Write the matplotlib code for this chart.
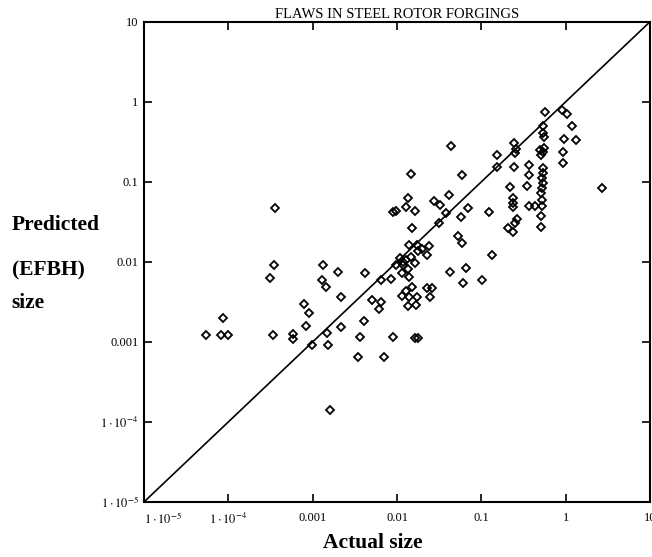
import numpy as np
import matplotlib
matplotlib.use("Agg")
import matplotlib.pyplot as plt
from matplotlib.ticker import FixedLocator, NullLocator

plt.rcParams['font.family'] = ['Liberation Serif', 'DejaVu Serif']
plt.rcParams['mathtext.fontset'] = 'stix'

# log10 of actual flaw size
actual_log = [
    -4.26, -4.09, -4.00, -4.07, -3.47, -3.51, -3.46, -3.45, -3.23, -3.23,
    -3.10, -3.04, -3.08, -3.01, -2.83, -2.82, -2.88, -2.89, -2.84, -2.70,
    -2.67, -2.67,
    -1.36, -0.81, -0.82, -1.84, -1.23, -1.39, -1.87, -1.56, -1.89, -1.79,
    -2.05, -2.01, -1.49, -1.42, -1.16, -1.24, -0.91, -1.50, -1.82, -1.28,
    -1.23, -1.86, -1.76, -1.62, -1.75, -1.71, -1.65, -0.88, -1.96, -1.89,
    -1.93, -1.84, -2.01, -1.93, -1.79, -2.38, -1.94, -1.87, -1.86, -1.37,
    -1.18, -2.19, -2.07, -1.22, -0.99, -1.82, -1.89, -1.94, -1.86, -1.76,
    -1.65, -1.58, -1.61, -2.30, -2.19, -2.21, -1.87, -1.77, -2.39, -2.44,
    -2.05, -1.79, -1.75, -2.46, -2.15, -2.79,
    -0.24, -0.04, 0.02, 0.08, -0.27, -0.27, -0.26, -0.02, 0.12, -0.61,
    -0.59, -0.60, -0.30, -0.27, -0.29, -0.26, -0.03, -0.03, -0.43, -0.61,
    -0.27, -0.27, -0.28, -0.27, -0.28, -0.29, -0.44, -0.46, -0.66, 0.43,
    -0.63, -0.63, -0.63, -0.44, -0.36, -0.28, -0.28, -0.29, -0.58, -0.60,
    -0.68, -0.63, -0.29,
]

# log10 of predicted (EFBH) size
predicted_log = [
    -2.92, -2.92, -2.92, -2.70, -2.92, -2.20, -2.04, -1.33, -2.90, -2.97,
    -2.53, -2.64, -2.80, -3.04, -2.89, -3.04, -2.04, -2.23, -2.32, -2.13,
    -2.44, -2.82,
    -0.55, -0.67, -0.82, -0.90, -0.92, -1.17, -1.20, -1.24, -1.32, -1.37,
    -1.38, -1.37, -1.29, -1.39, -1.33, -1.44, -1.38, -1.52, -1.58, -1.68,
    -1.77, -1.79, -1.79, -1.80, -1.87, -1.84, -1.92, -1.92, -1.95, -1.98,
    -2.00, -1.94, -2.04, -2.04, -2.02, -2.14, -2.14, -2.09, -2.19, -2.13,
    -2.08, -2.23, -2.22, -2.27, -2.23, -2.32, -2.37, -2.43, -2.44, -2.44,
    -2.33, -2.33, -2.44, -2.48, -2.50, -2.59, -2.55, -2.54, -2.74, -2.94,
    -2.94, -2.95, -2.95, -3.19, -3.19, -3.85,
    -0.13, -0.10, -0.15, -0.30, -0.30, -0.39, -0.44, -0.47, -0.48, -0.52,
    -0.59, -0.64, -0.60, -0.63, -0.67, -0.58, -0.63, -0.77, -0.79, -0.82,
    -0.83, -0.89, -0.95, -1.02, -1.08, -1.14, -0.92, -1.05, -1.07, -1.08,
    -1.20, -1.27, -1.32, -1.30, -1.30, -1.30, -1.23, -1.43, -1.47, -1.52,
    -1.58, -1.63, -1.57,
]

decades = [1e-5, 1e-4, 1e-3, 1e-2, 1e-1, 1, 10]
tick_labels = [r'$1\cdot10^{-5}$', r'$1\cdot10^{-4}$', '0.001', '0.01', '0.1', '1', '10']

actual = 10 ** np.array(actual_log)
predicted = 10 ** np.array(predicted_log)

fig = plt.figure(figsize=(6.52, 5.57), dpi=100)
ax = fig.add_axes([0.221, 0.099, 0.776, 0.862])

# y = x reference line
ax.plot([1e-5, 10], [1e-5, 10], color='black', linewidth=1.2)
ax.plot(actual, predicted, linestyle='none', marker='D', markersize=4.5,
        markerfacecolor='none', markeredgecolor='black', markeredgewidth=1.3)

ax.set_xscale('log')
ax.set_yscale('log')
ax.set_xlim(1e-5, 10)
ax.set_ylim(1e-5, 10)

for axis in (ax.xaxis, ax.yaxis):
    axis.set_major_locator(FixedLocator(decades))
    axis.set_minor_locator(NullLocator())
ax.set_xticklabels(tick_labels)
ax.set_yticklabels(tick_labels)
ax.get_xticklabels()[0].set_horizontalalignment('left')
ax.tick_params(direction='in', length=6, width=1.2, top=True, right=True,
               labelsize=9)
ax.tick_params(axis='x', pad=7)
ax.tick_params(axis='y', pad=4)

for sp in ax.spines.values():
    sp.set_linewidth(1.5)

ax.set_title('FLAWS IN STEEL ROTOR FORGINGS', fontsize=10.5, pad=3)

fig.text(0.018, 0.596, 'Predicted', fontsize=15.5, fontweight='bold', va='center')
fig.text(0.018, 0.515, '(EFBH)', fontsize=15.5, fontweight='bold', va='center')
fig.text(0.018, 0.456, 'size', fontsize=15.5, fontweight='bold', va='center')
fig.text(0.571, 0.025, 'Actual size', fontsize=15.5, fontweight='bold',
         ha='center', va='center')

fig.savefig('out.png', dpi=100)
